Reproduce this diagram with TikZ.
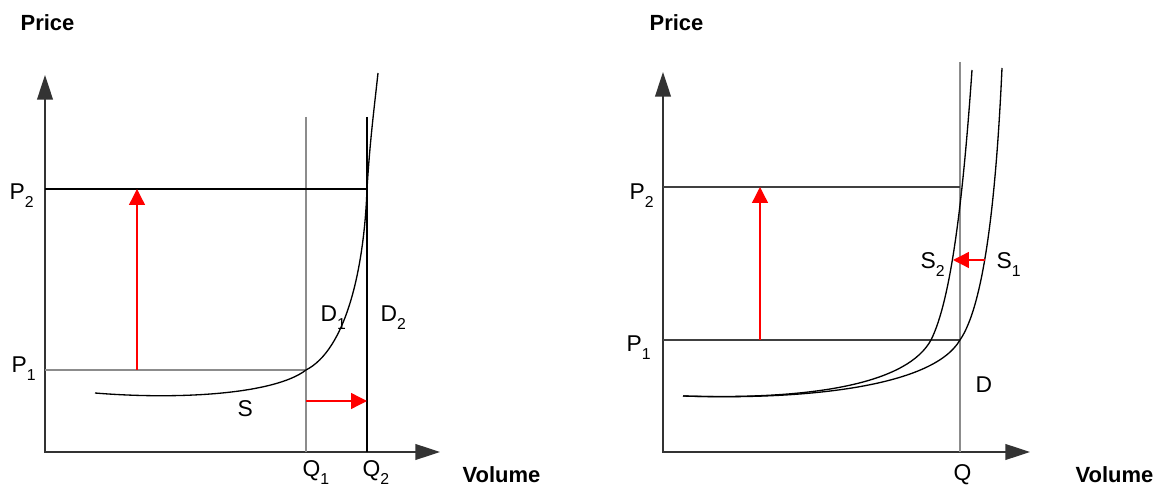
\documentclass[tikz,border=0pt]{standalone}
\usepackage{fontspec}
\setmainfont{Liberation Sans}
\usepackage{tikz}
\usetikzlibrary{arrows.meta}
\definecolor{shiftred}{rgb}{1,0,0}
\definecolor{guidegray}{gray}{0.55}
\newcommand{\lowsub}[1]{\raisebox{-4.5pt}{\fontsize{9}{10}\selectfont #1}}

\begin{document}
\begin{tikzpicture}[x=0.02cm,y=-0.02cm,line width=0.75pt,
  font=\fontsize{13}{15}\selectfont,
  axis/.style={black!80,{Triangle[length=14pt,width=9pt]}-{Triangle[length=14pt,width=9pt]}},
  shiftarrow/.style={shiftred,-{Triangle[length=9pt,width=9pt]}},
  guide/.style={guidegray},
  lbl/.style={anchor=base west,inner sep=0pt},
  axislbl/.style={lbl,font=\fontsize{12.5}{14}\selectfont\bfseries}]
  \useasboundingbox (0,0) rectangle (1160,489);

  % left panel: demand shifts right
  \coordinate (oL) at (45,452);
  \coordinate (yL) at (45,75);
  \coordinate (xL) at (440,452);
  \coordinate (d1top) at (306,117);
  \coordinate (d1bot) at (306,452);
  \coordinate (d2top) at (367,117);
  \coordinate (d2bot) at (367,452);
  \coordinate (p1L) at (45,370);
  \coordinate (e1L) at (306,370);
  \coordinate (p2L) at (45,189);
  \coordinate (e2L) at (367,189);
  \coordinate (upL0) at (137,370);
  \coordinate (upL1) at (137,189);
  \coordinate (rtL0) at (306,401);
  \coordinate (rtL1) at (367,401);

  \draw[axis] (yL) -- (oL) -- (xL);
  \draw[guide] (d1top) -- (d1bot);
  \draw (d2top) -- (d2bot);
  \draw[guide] (p1L) -- (e1L);
  \draw (p2L) -- (e2L);
  \draw (95,393) .. controls (180,400) and (275,394) .. (e1L)
    .. controls (345,350) and (364,272) .. (e2L)
    .. controls (370,140) and (374,110) .. (378,73);
  \draw[shiftarrow] (upL0) -- (upL1);
  \draw[shiftarrow] (rtL0) -- (rtL1);

  \node[axislbl] (priceL) at (20,31) {Price};
  \node[axislbl] (volL) at (462,482) {Volume};
  \node[lbl] (P2L) at (9,200) {P\lowsub{2}};
  \node[lbl] (P1L) at (11,373) {P\lowsub{1}};
  \node[lbl] (D1) at (320,322) {D\lowsub{1}};
  \node[lbl] (D2) at (380,322) {D\lowsub{2}};
  \node[lbl] (S) at (237,417) {S};
  \node[lbl] (Q1) at (302,477) {Q\lowsub{1}};
  \node[lbl] (Q2) at (362,477) {Q\lowsub{2}};

  % right panel: supply shifts left
  \coordinate (oR) at (663,452);
  \coordinate (yR) at (663,72);
  \coordinate (xR) at (1030,452);
  \coordinate (dtop) at (960,62);
  \coordinate (dbot) at (960,452);
  \coordinate (p1R) at (663,340);
  \coordinate (e1R) at (960,340);
  \coordinate (p2R) at (663,187);
  \coordinate (e2R) at (960,187);
  \coordinate (upR0) at (760,340);
  \coordinate (upR1) at (760,187);
  \coordinate (ltR0) at (985,260);
  \coordinate (ltR1) at (953,260);

  \draw[axis] (yR) -- (oR) -- (xR);
  \draw[guide] (dtop) -- (dbot);
  \draw[black!75] (p1R) -- (e1R);
  \draw[black!75] (p2R) -- (e2R);
  \draw (683,396) .. controls (800,400) and (932,388) .. (e1R)
    .. controls (984,305) and (996,200) .. (1002,68);
  \draw (683,396) .. controls (820,400) and (908,382) .. (931,340)
    .. controls (951,300) and (963,200) .. (972,70);
  \draw[shiftarrow] (upR0) -- (upR1);
  \draw[shiftarrow] (ltR0) -- (ltR1);

  \node[axislbl] (priceR) at (649,31) {Price};
  \node[axislbl] (volR) at (1075,482) {Volume};
  \node[lbl] (P2R) at (629,200) {P\lowsub{2}};
  \node[lbl] (P1R) at (626,352) {P\lowsub{1}};
  \node[lbl] (S2) at (920,269) {S\lowsub{2}};
  \node[lbl] (S1) at (996,269) {S\lowsub{1}};
  \node[lbl] (D) at (975,393) {D};
  \node[lbl] (Q) at (953,480) {Q};
\end{tikzpicture}
\end{document}
